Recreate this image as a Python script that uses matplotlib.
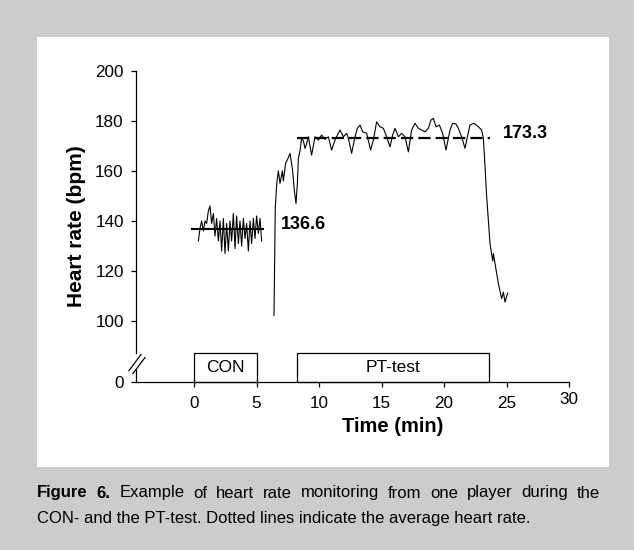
import matplotlib
matplotlib.use('Agg')
import matplotlib.pyplot as plt
from matplotlib.patches import Rectangle
import matplotlib.transforms as mtransforms

plt.rcParams['font.family'] = ['Liberation Sans', 'DejaVu Sans']

# ---------------- data ----------------
con_time = [0.35, 0.48, 0.61, 0.75, 0.88, 1.01, 1.15, 1.28, 1.41, 1.55, 1.68, 1.81,
            1.95, 2.08, 2.21, 2.35, 2.48, 2.61, 2.75, 2.88, 3.01, 3.15, 3.28, 3.41,
            3.55, 3.68, 3.81, 3.95, 4.08, 4.21, 4.35, 4.48, 4.61, 4.75, 4.88, 5.01,
            5.15, 5.28, 5.41]
con_hr = [132, 137, 140, 136, 140, 139, 144, 146, 139, 143, 134, 141,
          132, 140, 128, 141, 127, 139, 128, 140, 132, 143, 129, 142,
          131, 140, 130, 141, 133, 139, 128, 140, 131, 141, 133, 142,
          135, 141, 132]

pt_time = [6.40, 6.50, 6.62, 6.75, 6.88, 7.07, 7.15, 7.33, 7.52, 7.68, 7.87, 8.03,
           8.16, 8.27, 8.35, 8.48, 8.61, 8.75, 8.88, 9.02, 9.15, 9.41, 9.68, 9.95,
           10.21, 10.48, 10.75, 11.01, 11.28, 11.55, 11.68, 11.95, 12.21, 12.35, 12.61, 12.88,
           13.07, 13.28, 13.49, 13.81, 14.13, 14.35, 14.61, 14.88, 15.15, 15.41, 15.68, 15.89,
           16.08, 16.35, 16.61, 16.88, 17.15, 17.41, 17.68, 17.95, 18.21, 18.48, 18.75, 18.96,
           19.15, 19.36, 19.63, 19.89, 20.16, 20.48, 20.69, 20.96, 21.15, 21.41, 21.68, 21.87,
           22.08, 22.40, 22.75, 23.01, 23.15, 23.28, 23.41, 23.68, 23.90, 23.95, 24.05, 24.35,
           24.61, 24.75, 24.88, 25.09]
pt_hr = [102.3, 145, 155, 160, 155, 160, 156, 163, 165, 167, 161, 152,
         147, 155, 165, 168, 173, 172, 169, 171, 173.6, 166.3, 173.6, 172.3,
         174.3, 172.6, 173.6, 168.3, 172.3, 175, 176.3, 173.6, 175, 173, 167, 173.6,
         177, 178.3, 175.6, 175, 168.3, 172.3, 179.6, 177.6, 177, 173.6, 169.6, 174.3,
         177, 173.6, 175, 173.6, 167.6, 176.3, 179, 177, 176.3, 175.6, 177, 180.3,
         181, 177.6, 178.3, 175, 168.3, 176.3, 179, 178.7, 177, 173.6, 169, 173.6,
         178.3, 179, 177.6, 176.3, 173, 162, 150, 131, 124, 127, 124, 115,
         109, 111.6, 107.6, 111.2]

con_mean = 136.6
pt_mean = 173.3
con_mean_span = [-0.2, 5.55]
pt_mean_span = [8.2, 23.7]

x_ticks = [0, 5, 10, 15, 20, 25, 30]
y_ticks = [100, 120, 140, 160, 180, 200]

box_labels = ['CON', 'PT-test']
box_start = [0, 8.2]
box_end = [5, 23.6]

caption_bold = 'Figure 6.'
caption_line1 = 'Example of heart rate monitoring from one player during the'
caption_line2 = 'CON- and the PT-test. Dotted lines indicate the average heart rate.'

# ---------------- layout ----------------
W, H = 634, 550
fig = plt.figure(figsize=(W / 100, H / 100), dpi=100, facecolor='#cccccc')
fig.add_artist(Rectangle((37 / W, 1 - 467 / H), (609 - 37) / W, (467 - 37) / H,
                         transform=fig.transFigure, facecolor='white',
                         edgecolor='none', zorder=-5))

ax = fig.add_axes([136 / W, 1 - 381.5 / H, (569 - 136) / W, (381.5 - 70.7) / H])
ax.set_facecolor('none')

Y_ZERO = 75.9        # position where the broken axis shows "0"
X_MIN = -4.64
ax.set_xlim(X_MIN, 30)
ax.set_ylim(Y_ZERO, 200)

# traces
ax.plot(con_time, con_hr, color='black', lw=0.8, zorder=3)
ax.plot(pt_time, pt_hr, color='black', lw=0.8, zorder=3)

# mean lines
ax.plot(con_mean_span, [con_mean, con_mean], color='black', lw=1.5, zorder=4)
ax.plot(pt_mean_span, [pt_mean, pt_mean], color='black', lw=1.6,
        linestyle=(0, (5.5, 2.3)), zorder=4)

ax.text(6.96, 138.7, f'{con_mean:.1f}', fontsize=13, fontweight='bold', va='center', ha='left')
ax.text(24.7, 175.0, f'{pt_mean:.1f}', fontsize=13, fontweight='bold', va='center', ha='left')

# condition boxes
for lab, s, e in zip(box_labels, box_start, box_end):
    ax.add_patch(Rectangle((s, Y_ZERO), e - s, 87.4 - Y_ZERO, facecolor='none',
                           edgecolor='black', lw=0.9, clip_on=False, zorder=2))
    ax.text((s + e) / 2, 81.3, lab, fontsize=12.5, ha='center', va='center')

# axes styling
for sp in ['top', 'right']:
    ax.spines[sp].set_visible(False)
ax.spines['left'].set_bounds(87.1, 200)
ax.spines['left'].set_linewidth(0.9)
ax.spines['bottom'].set_linewidth(0.9)

ax.plot([X_MIN, X_MIN], [Y_ZERO, 80.3], color='black', lw=0.9, clip_on=False)
ax.plot([-5.2, -4.24], [80.28, 86.68], color='black', lw=0.9, clip_on=False)
ax.plot([-4.88, -3.92], [79.08, 85.48], color='black', lw=0.9, clip_on=False)

ax.set_xticks(x_ticks)
ax.set_xticklabels([str(v) for v in x_ticks])
ax.set_yticks([Y_ZERO] + y_ticks)
ax.set_yticklabels(['0'] + [str(v) for v in y_ticks])
ax.tick_params(axis='both', direction='out', length=3.8, width=0.9,
               labelsize=12.3, colors='black')
ax.tick_params(axis='x', pad=6.5)
ax.tick_params(axis='y', pad=5)

# the "30" label sits a little higher in the original
lbl30 = ax.xaxis.get_major_ticks()[-1].label1
lbl30.set_transform(lbl30.get_transform() +
                    mtransforms.ScaledTranslation(0, 4 / 100, fig.dpi_scale_trans))

ax.set_xlabel('Time (min)', fontsize=14.5, fontweight='bold')
ax.xaxis.set_label_coords((393 - 136) / (569 - 136), -(427 - 381.5) / (381.5 - 70.7))
ax.xaxis.label.set_va('center')
ax.set_ylabel('Heart rate (bpm)', fontsize=15, fontweight='bold')
ax.yaxis.set_label_coords((76.5 - 136) / (569 - 136), 0.5)
ax.yaxis.label.set_va('center')

# caption: first line fully justified between x=37 and x=600 px
CAP_FS = 12
words = [(w, 'bold') for w in caption_bold.split()] + \
        [(w, 'normal') for w in caption_line1.split()]
texts = [fig.text(0, 1 - 497.5 / H, w, fontsize=CAP_FS, fontweight=fw,
                  ha='left', va='baseline') for w, fw in words]
renderer = fig.canvas.get_renderer()
widths = [t.get_window_extent(renderer).width for t in texts]
left_px, right_px = 37.0, 600.0
gap = (right_px - left_px - sum(widths)) / (len(texts) - 1)
x = left_px
for t, wdt in zip(texts, widths):
    t.set_x(x / W)
    x += wdt + gap
fig.text(37 / W, 1 - 522.5 / H, caption_line2, fontsize=CAP_FS, ha='left', va='baseline')

fig.savefig('out.png', dpi=100, facecolor=fig.get_facecolor())
